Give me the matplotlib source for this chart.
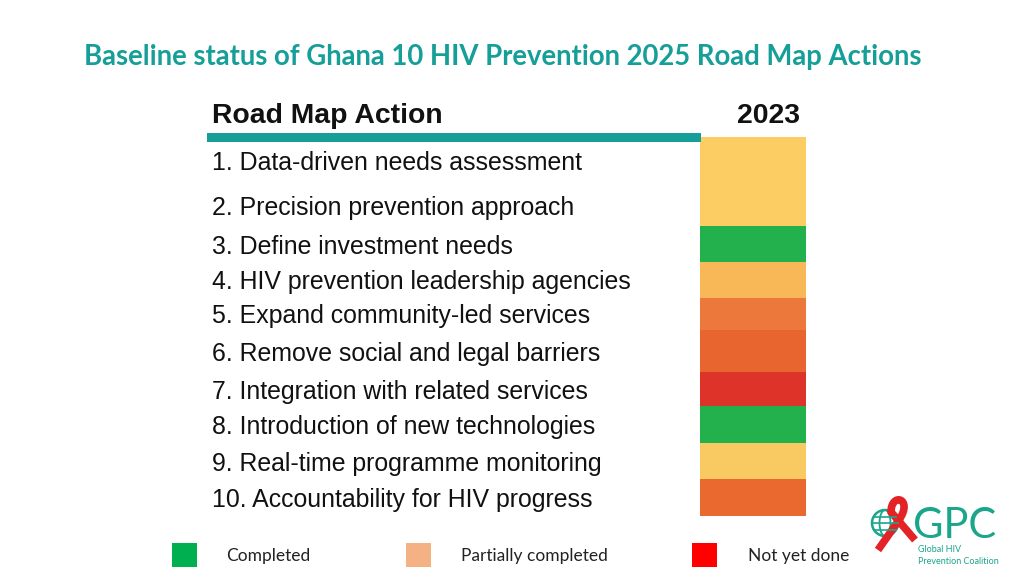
import matplotlib
matplotlib.use("Agg")
import matplotlib.pyplot as plt
import numpy as np
from matplotlib.patches import Circle, Ellipse, PathPatch, Rectangle
from matplotlib.path import Path

# ---------------- data ----------------
title = "Baseline status of Ghana 10 HIV Prevention 2025 Road Map Actions"
header_action = "Road Map Action"
header_year = "2023"
actions = [
    "1. Data-driven needs assessment",
    "2. Precision prevention approach",
    "3. Define investment needs",
    "4. HIV prevention leadership agencies",
    "5. Expand community-led services",
    "6. Remove social and legal barriers",
    "7. Integration with related services",
    "8. Introduction of new technologies",
    "9. Real-time programme monitoring",
    "10. Accountability for HIV progress",
]
cell_colors = ["#FBCD62", "#FBCD62", "#22B14C", "#F8B858", "#EC793B",
               "#E9652F", "#DD3328", "#22B14C", "#FACA62", "#E9692F"]
legend_labels = ["Completed", "Partially completed", "Not yet done"]
legend_colors = ["#00B050", "#F4B183", "#FF0000"]

# ---------------- layout (pixels) ----------------
row_heights = [47, 42, 36, 36, 32, 42, 34, 37, 36, 37]
table_top = 137
cell_left, cell_width = 700, 106
text_left = 212
teal = "#169E98"

fig = plt.figure(figsize=(10.24, 5.76), dpi=100)
ax = fig.add_axes([0, 0, 1, 1])
ax.set_xlim(0, 1024)
ax.set_ylim(576, 0)
ax.axis("off")

edges = table_top + np.concatenate([[0], np.cumsum(row_heights)])
centers = (edges[:-1] + edges[1:]) / 2

# cells
ax.barh(centers, [cell_width] * len(actions), height=row_heights, left=cell_left,
        color=cell_colors, linewidth=0, align="center")

# action texts
for c, txt in zip(centers, actions):
    ax.text(text_left, c + 2.5, txt, fontsize=17.9, family="Liberation Sans",
            color="#111111", va="center", ha="left")

# title
ax.text(503, 57, title, fontsize=19.8, family="Lato", fontweight="bold",
        color=teal, ha="center", va="center")

# headers
ax.text(text_left, 116, header_action, fontsize=20.4, family="Liberation Sans",
        fontweight="bold", color="#111111", ha="left", va="center")
ax.text(768, 116, header_year, fontsize=20.4, family="Liberation Sans",
        fontweight="bold", color="#111111", ha="center", va="center")
ax.add_patch(Rectangle((207, 133), 494, 9, color=teal, linewidth=0))

# legend
leg_sq_x = [172, 406, 692]
leg_txt_x = [226, 461, 748]
for sx, tx, lab, col in zip(leg_sq_x, leg_txt_x, legend_labels, legend_colors):
    ax.add_patch(Rectangle((sx, 543), 25, 24, color=col, linewidth=0))
    ax.text(tx, 556, lab, fontsize=12.5, family="Lato", color="#222222",
            ha="left", va="center")

# logo (GPC)
logo_teal = "#1BA68C"
gx, gy, gr = 885, 523, 13
ax.add_patch(Circle((gx, gy), gr, fill=False, edgecolor=logo_teal, linewidth=1.8))
ax.add_patch(Ellipse((gx, gy), 11, 2 * gr, fill=False, edgecolor=logo_teal, linewidth=1.3))
for dy in (-6.5, 0, 6.5):
    half = np.sqrt(max(gr ** 2 - dy ** 2, 0))
    ax.plot([gx - half, gx + half], [gy + dy, gy + dy], color=logo_teal, lw=1.2)
ribbon = Path([(878, 550), (899, 520),
               (914, 498), (891, 492), (891, 512),
               (915, 540)],
              [Path.MOVETO, Path.LINETO,
               Path.CURVE4, Path.CURVE4, Path.CURVE4,
               Path.LINETO])
ax.add_patch(PathPatch(ribbon, fill=False, edgecolor="#E42326", linewidth=5.5,
                       capstyle="butt", joinstyle="round"))
ax.text(913, 526, "GPC", fontsize=30, family="Lato", color=logo_teal,
        ha="left", va="center")
ax.text(918, 549, "Global HIV", fontsize=6.5, family="Lato", color=logo_teal,
        ha="left", va="center")
ax.text(918, 561, "Prevention Coalition", fontsize=6.5, family="Lato",
        color=logo_teal, ha="left", va="center")

fig.savefig("out.png", dpi=100, facecolor="white")
